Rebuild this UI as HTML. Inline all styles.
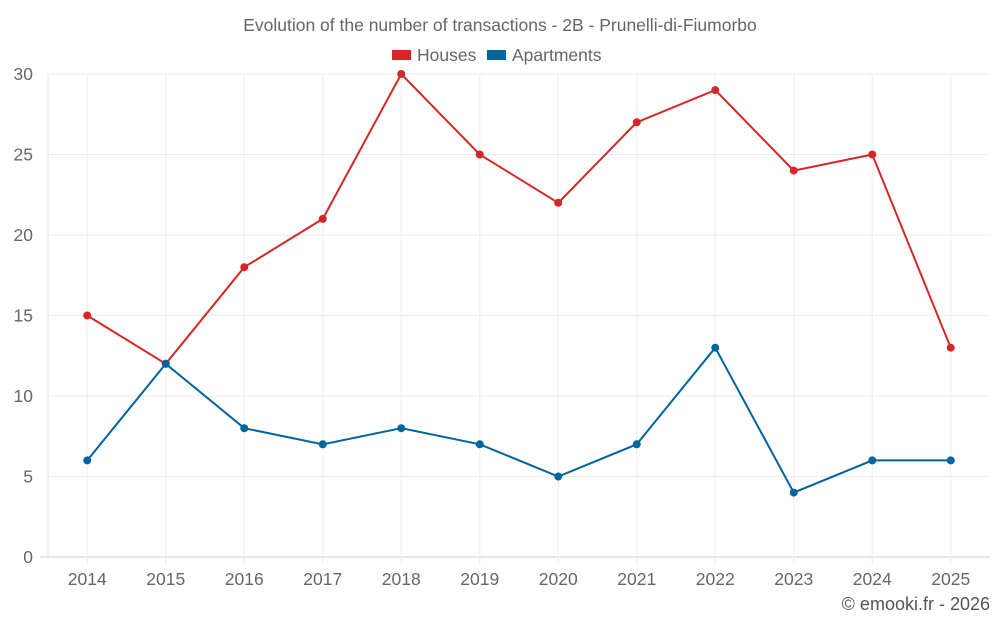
<!DOCTYPE html>
<html><head><meta charset="utf-8"><style>
html,body{margin:0;padding:0;background:#fff;}
svg{display:block;font-family:"Liberation Sans",sans-serif;}
</style></head><body>
<svg id="chart" width="1000" height="625" viewBox="0 0 1000 625">
<text x="500" y="31" text-anchor="middle" font-size="17.5" fill="#666">Evolution of the number of transactions - 2B - Prunelli-di-Fiumorbo</text>
<g>
<g><rect x="392" y="50" width="19" height="10" fill="#d62728"/><text x="417" y="61" font-size="17.5" fill="#666">Houses</text></g>
<g><rect x="487" y="50" width="19" height="10" fill="#00649f"/><text x="512" y="61" font-size="17.5" fill="#666">Apartments</text></g>
</g>
<g id="grid"></g><g id="axes"></g><g id="series"></g>
<text x="990" y="610" text-anchor="end" font-size="18" fill="#555">© emooki.fr - 2026</text>
</svg>
<script>
const categories=["2014","2015","2016","2017","2018","2019","2020","2021","2022","2023","2024","2025"];
const houses=[15,12,18,21,30,25,22,27,29,24,25,13];
const apartments=[6,12,8,7,8,7,5,7,13,4,6,6];
const yTicks=[0,5,10,15,20,25,30];
const L=48,R=990,T=74,B=557,yMax=30;
const bw=(R-L)/categories.length;
const x=i=>L+bw*(i+0.5);
const y=v=>B-(v/yMax)*(B-T);
const NS="http://www.w3.org/2000/svg";
function mk(tag,attrs,parent){const e=document.createElementNS(NS,tag);for(const k in attrs)e.setAttribute(k,attrs[k]);parent.appendChild(e);return e;}
const grid=document.getElementById('grid'),axes=document.getElementById('axes'),series=document.getElementById('series');
yTicks.forEach(t=>{
 const l=mk('line',{x1:t===0?40:L,x2:R,y1:y(t),y2:y(t),stroke:t===0?'#ccc':'#ececec','stroke-width':1},grid);
 
 
 const tx=mk('text',{x:33,y:y(t)+6,'text-anchor':'end','font-size':17.5,fill:'#666'},axes);
 tx.textContent=t;
 
 
});
const la=mk('line',{x1:L,x2:L,y1:T,y2:B,stroke:'#e6e6e6'},grid);


categories.forEach((c,i)=>{
 const g=mk('line',{x1:x(i),x2:x(i),y1:T,y2:B+8,stroke:'#eeeeee'},grid);
 
 
 const tx=mk('text',{x:x(i),y:585,'text-anchor':'middle','font-size':17.5,fill:'#666'},axes);
 tx.textContent=c;
 
 
});
function draw(vals,color,name){
 const p=mk('polyline',{points:vals.map((v,i)=>x(i)+','+y(v)).join(' '),fill:'none',stroke:color,'stroke-width':2},series);
 
 
 vals.forEach((v,i)=>{
  const c=mk('circle',{cx:x(i),cy:y(v),r:4,fill:color},series);
  
  
 });
}
draw(houses,'#d62728','houses');
draw(apartments,'#00649f','apartments');
</script>
</body></html>
